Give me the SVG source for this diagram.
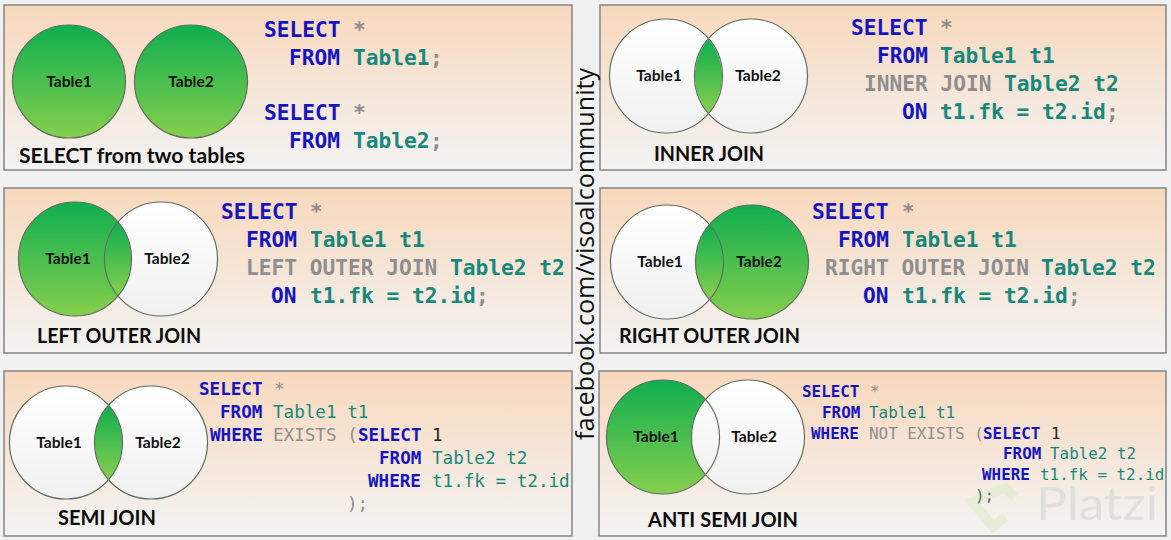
<svg xmlns="http://www.w3.org/2000/svg" width="1171" height="540" viewBox="0 0 1171 540">
<style>
.panel{fill:url(#peach);stroke:#8b8b8b;stroke-width:1.6}
.o{fill:none;stroke:#5f6f5f;stroke-width:1.2}
.gc{fill:url(#green)}
.wc{fill:url(#white)}
.code{font-family:"DejaVu Sans Mono","Liberation Mono",monospace;font-weight:700}
.big{font-size:21.2px}
.mid{font-size:17.6px;font-weight:400}
.sm{font-size:15.9px;font-weight:400}
.k{fill:#1515c0;font-weight:700}
.g{fill:#8e8e8e}
.t{fill:#17897c}
.d{fill:#222}
.lb{font-family:Lato,"Open Sans",sans-serif;font-weight:700;font-size:15.6px;text-anchor:middle;fill:#111}
.ttl{font-family:Lato,"Open Sans",sans-serif;font-weight:700;font-size:20px;text-anchor:middle;fill:#0c0c0c}
</style>
<defs>
<linearGradient id="peach" x1="0" y1="0" x2="0" y2="1"><stop offset="0" stop-color="#f8d8bc"/><stop offset="1" stop-color="#f3f3f3"/></linearGradient>
<linearGradient id="green" x1="0" y1="0" x2="0" y2="1"><stop offset="0" stop-color="#0fae4f"/><stop offset="1" stop-color="#86cf4e"/></linearGradient>
<linearGradient id="white" x1="0" y1="0" x2="0" y2="1"><stop offset="0" stop-color="#ffffff"/><stop offset="1" stop-color="#f0f0f0"/></linearGradient>
</defs>
<rect width="1171" height="540" fill="#f1f1f1"/>

<g id="select-two-tables">
<rect class="panel" x="4" y="5" width="568" height="165"/>
<ellipse class="gc" cx="69" cy="81.5" rx="56.5" ry="56.5"/><ellipse class="o" cx="69" cy="81.5" rx="56.5" ry="56.5"/>
<ellipse class="gc" cx="191" cy="81.5" rx="56.5" ry="56.5"/><ellipse class="o" cx="191" cy="81.5" rx="56.5" ry="56.5"/>
<text class="lb" x="69" y="87">Table1</text><text class="lb" x="191" y="87">Table2</text>
<text class="ttl" x="132" y="163" textLength="226" lengthAdjust="spacingAndGlyphs">SELECT from two tables</text>
<text class="code big"><tspan class="k" x="264" y="37">SELECT</tspan><tspan class="g" x="353" y="37">*</tspan><tspan class="k" x="289" y="65">FROM</tspan><tspan class="t" x="353" y="65">Table1</tspan><tspan class="g" x="430" y="65">;</tspan><tspan class="k" x="264" y="120">SELECT</tspan><tspan class="g" x="353" y="120">*</tspan><tspan class="k" x="289" y="148">FROM</tspan><tspan class="t" x="353" y="148">Table2</tspan><tspan class="g" x="430" y="148">;</tspan></text>
</g>

<g id="inner-join">
<rect class="panel" x="600" y="5" width="566" height="165"/>
<ellipse class="wc" cx="666" cy="76" rx="56.5" ry="57"/><ellipse class="wc" cx="751" cy="76" rx="56.5" ry="57"/>
<path class="gc" d="M708.5 39 A56.5 57 0 0 1 708.5 113 A56.5 57 0 0 1 708.5 39Z"/>
<ellipse class="o" cx="666" cy="76" rx="56.5" ry="57"/><ellipse class="o" cx="751" cy="76" rx="56.5" ry="57"/>
<text class="lb" x="659" y="81">Table1</text><text class="lb" x="758" y="81">Table2</text>
<text class="ttl" x="709" y="161" textLength="110" lengthAdjust="spacingAndGlyphs">INNER JOIN</text>
<text class="code big"><tspan class="k" x="851" y="35">SELECT</tspan><tspan class="g" x="940" y="35">*</tspan><tspan class="k" x="877" y="63">FROM</tspan><tspan class="t" x="940" y="63">Table1 t1</tspan><tspan class="g" x="864" y="91">INNER JOIN</tspan><tspan class="t" x="1004" y="91">Table2 t2</tspan><tspan class="k" x="902" y="119">ON</tspan><tspan class="t" x="940" y="119">t1.fk = t2.id</tspan><tspan class="g" x="1106" y="119">;</tspan></text>
</g>

<g id="left-outer-join">
<rect class="panel" x="4" y="188" width="568" height="165"/>
<ellipse class="gc" cx="75" cy="259" rx="56.5" ry="57"/><ellipse class="wc" cx="161" cy="259" rx="56.5" ry="57"/>
<path class="gc" d="M118 222 A56.5 57 0 0 1 118 296 A56.5 57 0 0 1 118 222Z"/>
<ellipse class="o" cx="75" cy="259" rx="56.5" ry="57"/><ellipse class="o" cx="161" cy="259" rx="56.5" ry="57"/>
<text class="lb" x="68" y="264">Table1</text><text class="lb" x="167" y="264">Table2</text>
<text class="ttl" x="119" y="343" textLength="164" lengthAdjust="spacingAndGlyphs">LEFT OUTER JOIN</text>
<text class="code big"><tspan class="k" x="221" y="219">SELECT</tspan><tspan class="g" x="310" y="219">*</tspan><tspan class="k" x="246" y="247">FROM</tspan><tspan class="t" x="310" y="247">Table1 t1</tspan><tspan class="g" x="246" y="275">LEFT OUTER JOIN</tspan><tspan class="t" x="450" y="275">Table2 t2</tspan><tspan class="k" x="271" y="303">ON</tspan><tspan class="t" x="310" y="303">t1.fk = t2.id</tspan><tspan class="g" x="476" y="303">;</tspan></text>
</g>

<g id="right-outer-join">
<rect class="panel" x="600" y="188" width="566" height="165"/>
<ellipse class="wc" cx="667" cy="262" rx="56.5" ry="57"/><ellipse class="gc" cx="752" cy="262" rx="56.5" ry="57"/>
<path class="gc" d="M709.5 225 A56.5 57 0 0 1 709.5 299 A56.5 57 0 0 1 709.5 225Z"/>
<ellipse class="o" cx="667" cy="262" rx="56.5" ry="57"/><ellipse class="o" cx="752" cy="262" rx="56.5" ry="57"/>
<text class="lb" x="660" y="267">Table1</text><text class="lb" x="759" y="267">Table2</text>
<text class="ttl" x="709.5" y="343" textLength="181" lengthAdjust="spacingAndGlyphs">RIGHT OUTER JOIN</text>
<text class="code big"><tspan class="k" x="812" y="219">SELECT</tspan><tspan class="g" x="902" y="219">*</tspan><tspan class="k" x="838" y="247">FROM</tspan><tspan class="t" x="902" y="247">Table1 t1</tspan><tspan class="g" x="825" y="275">RIGHT OUTER JOIN</tspan><tspan class="t" x="1041" y="275">Table2 t2</tspan><tspan class="k" x="863" y="303">ON</tspan><tspan class="t" x="902" y="303">t1.fk = t2.id</tspan><tspan class="g" x="1068" y="303">;</tspan></text>
</g>

<g id="semi-join">
<rect class="panel" x="4" y="371" width="568" height="165"/>
<ellipse class="wc" cx="66" cy="442.5" rx="56.5" ry="56.5"/><ellipse class="wc" cx="151" cy="442.5" rx="56.5" ry="56.5"/>
<path class="gc" d="M108.5 405.5 A56.5 56.5 0 0 1 108.5 479.5 A56.5 56.5 0 0 1 108.5 405.5Z"/>
<ellipse class="o" cx="66" cy="442.5" rx="56.5" ry="56.5"/><ellipse class="o" cx="151" cy="442.5" rx="56.5" ry="56.5"/>
<text class="lb" x="59" y="448">Table1</text><text class="lb" x="158" y="448">Table2</text>
<text class="ttl" x="107" y="525" textLength="98" lengthAdjust="spacingAndGlyphs">SEMI JOIN</text>
<text class="code mid"><tspan class="k" x="199" y="395">SELECT</tspan><tspan class="g" x="274" y="395">*</tspan><tspan class="k" x="220" y="418">FROM</tspan><tspan class="t" x="273" y="418">Table1 t1</tspan><tspan class="k" x="210" y="441">WHERE</tspan><tspan class="g" x="273" y="441">EXISTS (</tspan><tspan class="k" x="358" y="441">SELECT</tspan><tspan class="d" x="432" y="441">1</tspan><tspan class="k" x="379" y="464">FROM</tspan><tspan class="t" x="432" y="464">Table2 t2</tspan><tspan class="k" x="368" y="487">WHERE</tspan><tspan class="t" x="432" y="487">t1.fk = t2.id</tspan><tspan class="g" x="347" y="510">);</tspan></text>
</g>

<g id="anti-semi-join">
<rect class="panel" x="599" y="371" width="567" height="165"/>
<path d="M1015 497 L1005 488 L973 502 L993 527 L1005 517" fill="none" stroke="#e4ecd2" stroke-width="10" opacity="0.8"/>
<text x="1036" y="520" font-family="Lato,'Open Sans',sans-serif" font-size="46" fill="#dfdfdb" textLength="122" lengthAdjust="spacingAndGlyphs">Platzi</text>
<ellipse class="gc" cx="663" cy="437" rx="56.5" ry="57"/><ellipse class="wc" cx="748" cy="437" rx="56.5" ry="57"/>
<ellipse class="o" cx="663" cy="437" rx="56.5" ry="57"/><ellipse class="o" cx="748" cy="437" rx="56.5" ry="57"/>
<text class="lb" x="656" y="442">Table1</text><text class="lb" x="754" y="442">Table2</text>
<text class="ttl" x="723" y="527" textLength="150" lengthAdjust="spacingAndGlyphs">ANTI SEMI JOIN</text>
<text class="code sm"><tspan class="k" x="802" y="397">SELECT</tspan><tspan class="g" x="870" y="397">*</tspan><tspan class="k" x="822" y="418">FROM</tspan><tspan class="t" x="869" y="418">Table1 t1</tspan><tspan class="k" x="811" y="439">WHERE</tspan><tspan class="g" x="869" y="439">NOT EXISTS (</tspan><tspan class="k" x="983" y="439">SELECT</tspan><tspan class="d" x="1051" y="439">1</tspan><tspan class="k" x="1003" y="459">FROM</tspan><tspan class="t" x="1050" y="459">Table2 t2</tspan><tspan class="k" x="982" y="480">WHERE</tspan><tspan class="t" x="1040" y="480">t1.fk = t2.id</tspan><tspan fill="#666" x="975" y="501">);</tspan></text>
</g>

<text id="credit" transform="translate(594 440) rotate(-90)" font-family="'Open Sans','Noto Sans',sans-serif" font-size="25" fill="#111" textLength="372" lengthAdjust="spacingAndGlyphs">facebook.com/visoalcommunity</text>
<g id="connectors"/>
</svg>
